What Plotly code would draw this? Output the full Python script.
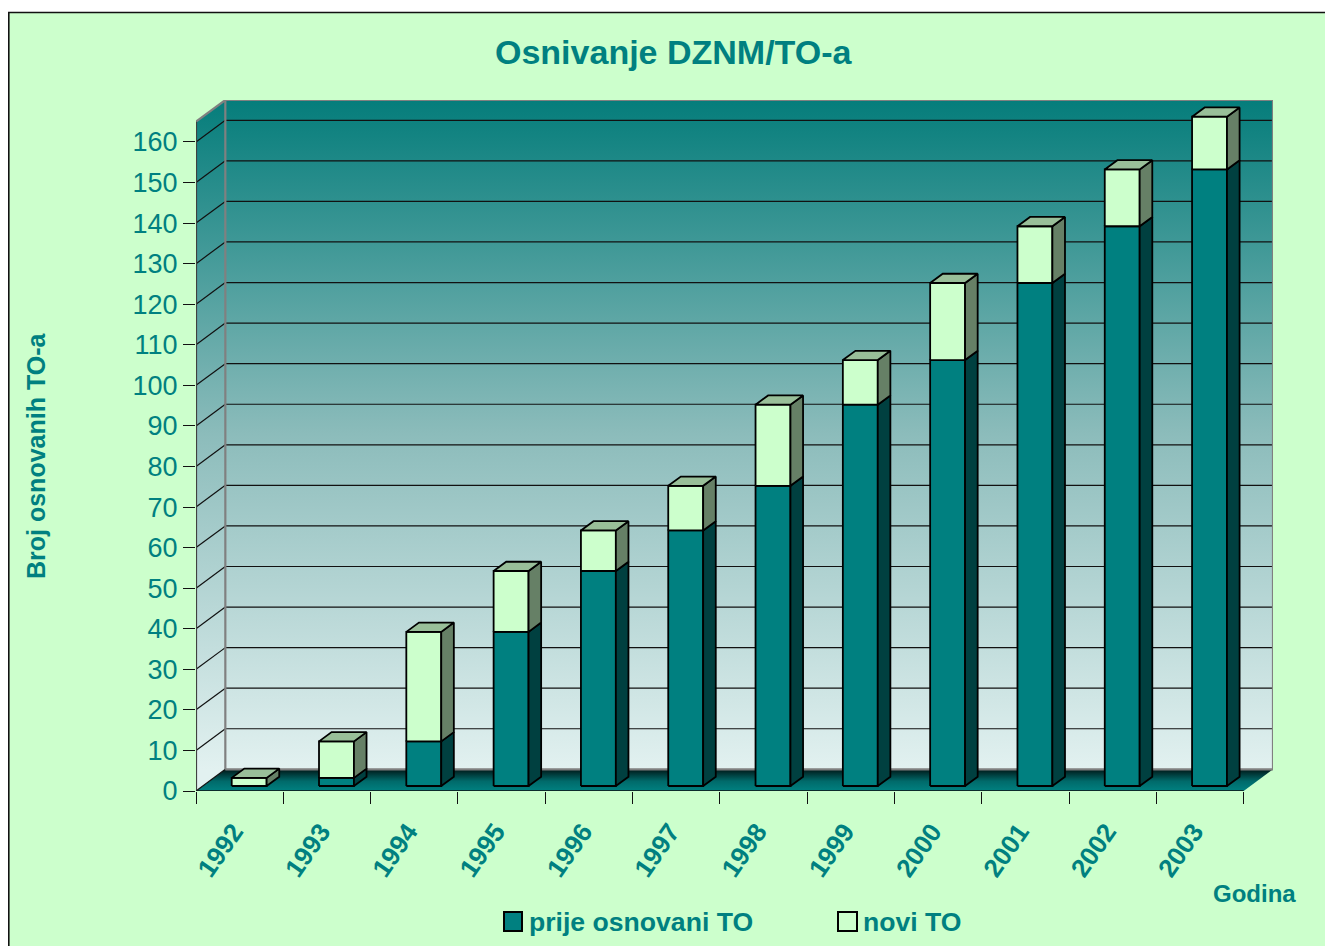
import plotly.graph_objects as go

# ---------------- data ----------------
years = ['1992', '1993', '1994', '1995', '1996', '1997',
         '1998', '1999', '2000', '2001', '2002', '2003']
prije = [0, 2, 11, 38, 53, 63, 74, 94, 105, 124, 138, 152]   # prije osnovani TO
novi = [2, 9, 27, 15, 10, 11, 20, 11, 19, 14, 14, 13]        # novi TO
y_ticks = list(range(0, 161, 10))

# ---------------- geometry / style ----------------
OFF = 8                       # default page margin of the html body
W, H = 1333 - OFF, 946 - OFF
ML, MR, MT, MB = 188, 60, 92, 155
N = len(years)
DX, DY = 0.336, 5.35          # depth of the 3D box (x in categories, y in values)
VMAX = 165                    # top of walls (value units)
BAR_W = 0.40
BAR_SHIFT = 0.109
BX, BY = 0.1443, 2.29         # depth of each bar
BASE = 1.23                   # front face base height of bars

TEAL = '#008080'
FONT = 'Liberation Sans, Arial, sans-serif'

PW = W - ML - MR
PH = H - MT - MB


def xp(px):
    return (px - OFF - ML) / PW


def yp(py):
    return (H - MB - (py - OFF)) / PH


def poly_trace(polys, fill, lc='black', lw=1.8):
    xs, ys = [], []
    for p in polys:
        for (x, y) in p:
            xs.append(x)
            ys.append(y)
        xs.append(p[0][0])
        ys.append(p[0][1])
        xs.append(None)
        ys.append(None)
    return go.Scatter(x=xs, y=ys, mode='lines', fill='toself', fillcolor=fill,
                      line=dict(color=lc, width=lw), hoverinfo='skip',
                      showlegend=False)


def line_trace(segs, color, width):
    xs, ys = [], []
    for (a, b) in segs:
        xs += [a[0], b[0], None]
        ys += [a[1], b[1], None]
    return go.Scatter(x=xs, y=ys, mode='lines', line=dict(color=color, width=width),
                      hoverinfo='skip', showlegend=False)


wall_scale = [[0, '#E2F1F0'], [0.5, '#8CBCBB'], [1, '#057D7B']]
traces = []

# floor
traces.append(go.Scatter(
    x=[0, N, N + DX, DX, 0], y=[0, 0, DY, DY, 0], mode='lines', fill='toself',
    line=dict(width=0, color='rgba(0,0,0,0)'),
    fillgradient=dict(type='vertical',
                      colorscale=[[0, '#008080'], [0.45, '#006a6a'], [1, '#001818']],
                      start=0, stop=DY),
    hoverinfo='skip', showlegend=False))

# left wall
traces.append(go.Scatter(
    x=[0, DX, DX, 0, 0], y=[0, DY, VMAX + DY, VMAX, 0], mode='lines', fill='toself',
    line=dict(width=0, color='rgba(0,0,0,0)'),
    fillgradient=dict(type='vertical', colorscale=wall_scale, start=DY, stop=VMAX + DY),
    hoverinfo='skip', showlegend=False))

# back wall
traces.append(go.Scatter(
    x=[DX, N + DX, N + DX, DX, DX], y=[DY, DY, VMAX + DY, VMAX + DY, DY], mode='lines',
    fill='toself', line=dict(width=0, color='rgba(0,0,0,0)'),
    fillgradient=dict(type='vertical', colorscale=wall_scale, start=DY, stop=VMAX + DY),
    hoverinfo='skip', showlegend=False))

# gridlines
back_grid = [((DX, v + DY), (N + DX, v + DY)) for v in y_ticks if v > 0]
side_grid = [((0, v), (DX, v + DY)) for v in y_ticks]
traces.append(line_trace(back_grid + side_grid, '#111111', 1.2))

# wall edges
edges = [((DX, DY), (N + DX, DY)),
         ((N + DX, DY), (N + DX, VMAX + DY)),
         ((N + DX, VMAX + DY), (DX, VMAX + DY)),
         ((DX, VMAX + DY), (DX, DY)),
         ((0, VMAX), (DX, VMAX + DY))]
traces.append(line_trace(edges, '#808080', 2.2))

# bars
pf, ps, nf, ns, nt = [], [], [], [], []
for i in range(N):
    x0 = i + 0.5 + BAR_SHIFT - BAR_W / 2
    x1 = x0 + BAR_W
    ya = BASE
    yb = BASE + prije[i]
    yc = yb + novi[i]
    if prije[i] > 0:
        pf.append([(x0, ya), (x1, ya), (x1, yb), (x0, yb)])
        ps.append([(x1, ya), (x1 + BX, ya + BY), (x1 + BX, yb + BY), (x1, yb)])
    nf.append([(x0, yb), (x1, yb), (x1, yc), (x0, yc)])
    ns.append([(x1, yb), (x1 + BX, yb + BY), (x1 + BX, yc + BY), (x1, yc)])
    nt.append([(x0, yc), (x0 + BX, yc + BY), (x1 + BX, yc + BY), (x1, yc)])

traces.append(poly_trace(pf, TEAL))
traces.append(poly_trace(ps, '#004040'))
traces.append(poly_trace(nf, '#CCFFCC'))
traces.append(poly_trace(ns, '#668066'))
traces.append(poly_trace(nt, '#99BF99'))

# front axis lines
traces.append(line_trace([((0, 0), (0, VMAX))], '#404040', 2.2))
traces.append(line_trace([((0, 0), (N, 0))], '#111111', 1.5))

fig = go.Figure(traces)

shapes = [
    dict(type='rect', xref='paper', yref='paper', layer='below',
         x0=xp(8.8), x1=xp(1360), y0=yp(980), y1=yp(12.5),
         fillcolor='#CCFFCC', line=dict(color='#111111', width=1.6)),
    dict(type='rect', xref='paper', yref='paper',
         x0=xp(504), x1=xp(522), y0=yp(931), y1=yp(912),
         fillcolor=TEAL, line=dict(color='black', width=2)),
    dict(type='rect', xref='paper', yref='paper',
         x0=xp(838), x1=xp(857), y0=yp(931), y1=yp(912),
         fillcolor='#CCFFCC', line=dict(color='black', width=2)),
]

annotations = [
    dict(text='<b>Osnivanje DZNM/TO-a</b>', xref='paper', yref='paper',
         x=xp(673.5), y=yp(52), xanchor='center', yanchor='middle', showarrow=False,
         font=dict(family=FONT, size=34, color=TEAL)),
    dict(text='<b>Broj osnovanih TO-a</b>', xref='paper', yref='paper',
         x=xp(36), y=yp(456), xanchor='center', yanchor='middle', showarrow=False,
         textangle=-90, font=dict(family=FONT, size=25, color=TEAL)),
    dict(text='<b>Godina</b>', xref='paper', yref='paper',
         x=xp(1254), y=yp(893), xanchor='center', yanchor='middle', showarrow=False,
         font=dict(family=FONT, size=24, color=TEAL)),
    dict(text='<b>prije osnovani TO</b>', xref='paper', yref='paper',
         x=xp(527), y=yp(922), xanchor='left', yanchor='middle', showarrow=False,
         font=dict(family=FONT, size=26.6, color=TEAL)),
    dict(text='<b>novi TO</b>', xref='paper', yref='paper',
         x=xp(861), y=yp(922), xanchor='left', yanchor='middle', showarrow=False,
         font=dict(family=FONT, size=26.6, color=TEAL)),
]

fig.update_layout(
    width=W, height=H, autosize=False,
    margin=dict(l=ML, r=MR, t=MT, b=MB, pad=0),
    paper_bgcolor='white', plot_bgcolor='rgba(0,0,0,0)',
    showlegend=False, shapes=shapes, annotations=annotations,
    xaxis=dict(range=[0, N + DX], showgrid=False, zeroline=False, showline=False,
               tickmode='array', tickvals=[i + 0.5 for i in range(N)], ticktext=years,
               ticks='outside', ticklen=12, tickcolor='rgba(0,0,0,0)', tickangle=-55,
               ticklabelstandoff=2, ticklabelshift=-6,
               tickfont=dict(family=FONT, size=26, color=TEAL, weight='bold'),
               minor=dict(tickmode='array', tickvals=list(range(N + 1)), ticks='outside',
                          ticklen=12, tickcolor='#111111', tickwidth=1.2, showgrid=False),
               fixedrange=True),
    yaxis=dict(range=[0, VMAX + DY], showgrid=False, zeroline=False, showline=False,
               tickmode='array', tickvals=y_ticks, ticks='outside', ticklen=12,
               tickcolor='#111111', tickwidth=1.2,
               tickfont=dict(family=FONT, size=27, color=TEAL), fixedrange=True),
)

fig.write_html('out.html')
